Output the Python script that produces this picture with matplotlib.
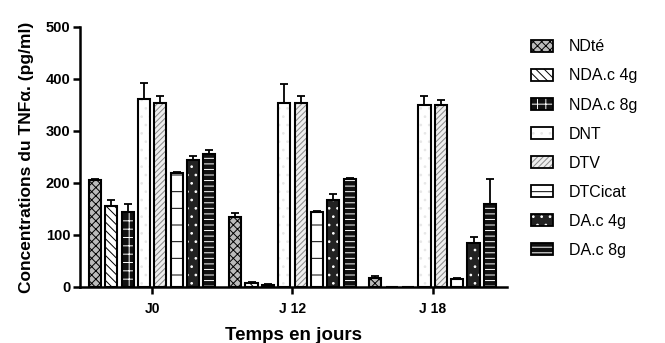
import numpy as np
import matplotlib
matplotlib.use("Agg")
import matplotlib.pyplot as plt
from matplotlib.patches import Patch
from matplotlib.legend_handler import HandlerTuple

groups = ["J0", "J 12", "J 18"]
series = ["NDté", "NDA.c 4g", "NDA.c 8g", "DNT", "DTV", "DTCicat", "DA.c 4g", "DA.c 8g"]

v_ndte = [205, 134, 18]
v_nda4 = [155, 7, 0]
v_nda8 = [144, 4, 0]
v_dnt = [361, 353, 350]
v_dtv = [353, 353, 350]
v_dtc = [219, 145, 15]
v_da4 = [244, 168, 84]
v_da8 = [255, 207, 159]

e_ndte = [3, 8, 3]
e_nda4 = [13, 2, 0]
e_nda8 = [15, 1, 0]
e_dnt = [32, 38, 18]
e_dtv = [15, 15, 10]
e_dtc = [3, 2, 2]
e_da4 = [7, 10, 13]
e_da8 = [8, 3, 48]

values = [v_ndte, v_nda4, v_nda8, v_dnt, v_dtv, v_dtc, v_da4, v_da8]
errors = [e_ndte, e_nda4, e_nda8, e_dnt, e_dtv, e_dtc, e_da4, e_da8]

# (face, hatch colour, hatch)
styles = [
    ("#bbbbbb", "black", "xxxx"),
    ("white", "black", "\\\\\\\\"),
    ("#111111", "white", "++"),
    ("white", "#e8e8e8", ".."),
    ("#eeeeee", "#888888", "//////"),
    ("white", "black", "-"),
    ("#222222", "white", ".."),
    ("#111111", "white", "---"),
]

plt.rcParams["font.family"] = ["Liberation Sans", "DejaVu Sans"]
plt.rcParams["hatch.linewidth"] = 0.7

fig = plt.figure(figsize=(6.65, 3.43), dpi=100)
ax = fig.add_axes([80 / 665, 1 - 287 / 343, 427 / 665, 260 / 343])

x = np.arange(len(groups))
step = 0.1165
width = 0.086
n = len(series)
for i in range(n):
    pos = x + (i - (n - 1) / 2) * step
    fc, hc, h = styles[i]
    ax.bar(pos, values[i], width, color=fc, edgecolor=hc, hatch=h, linewidth=0, zorder=2)
    ax.bar(pos, values[i], width, facecolor="none", edgecolor="black", linewidth=1.5, zorder=3)
    err = np.array(errors[i])
    ax.errorbar(pos, values[i], yerr=[np.zeros_like(err), err], fmt="none",
                ecolor="black", elinewidth=1.3, capsize=3, capthick=1.3, zorder=1)

ax.set_xlim(-0.514, 2.53)
ax.set_ylim(0, 500)
ax.set_yticks([0, 100, 200, 300, 400, 500])
ax.set_xticks(x)
ax.set_xticklabels(groups, fontsize=10, fontweight="bold")
for lab in ax.get_yticklabels():
    lab.set_fontweight("bold")
    lab.set_fontsize(10.5)
for s in ["top", "right"]:
    ax.spines[s].set_visible(False)
for s in ["left", "bottom"]:
    ax.spines[s].set_linewidth(1.8)
ax.tick_params(axis="y", length=5, width=1.8, pad=2)
ax.tick_params(axis="x", length=5, width=1.8, pad=6)

ax.set_ylabel("Concentrations du TNFα. (pg/ml)", fontsize=12.5, fontweight="bold", labelpad=8)
ax.set_xlabel("Temps en jours", fontsize=13.5, fontweight="bold", labelpad=8)

handles = []
for i in range(n):
    fc, hc, h = styles[i]
    handles.append((Patch(facecolor=fc, edgecolor=hc, hatch=h, linewidth=0),
                    Patch(facecolor="none", edgecolor="black", linewidth=1.3)))
leg = fig.legend(handles, series, loc="upper left", bbox_to_anchor=(525 / 665, 1 - 33 / 343),
                 frameon=False, fontsize=11.5, labelspacing=0.88, handlelength=1.35,
                 handleheight=0.75, handletextpad=1.0, borderaxespad=0,
                 handler_map={tuple: HandlerTuple(ndivide=1, pad=0)})

fig.savefig("out.png", dpi=100)
